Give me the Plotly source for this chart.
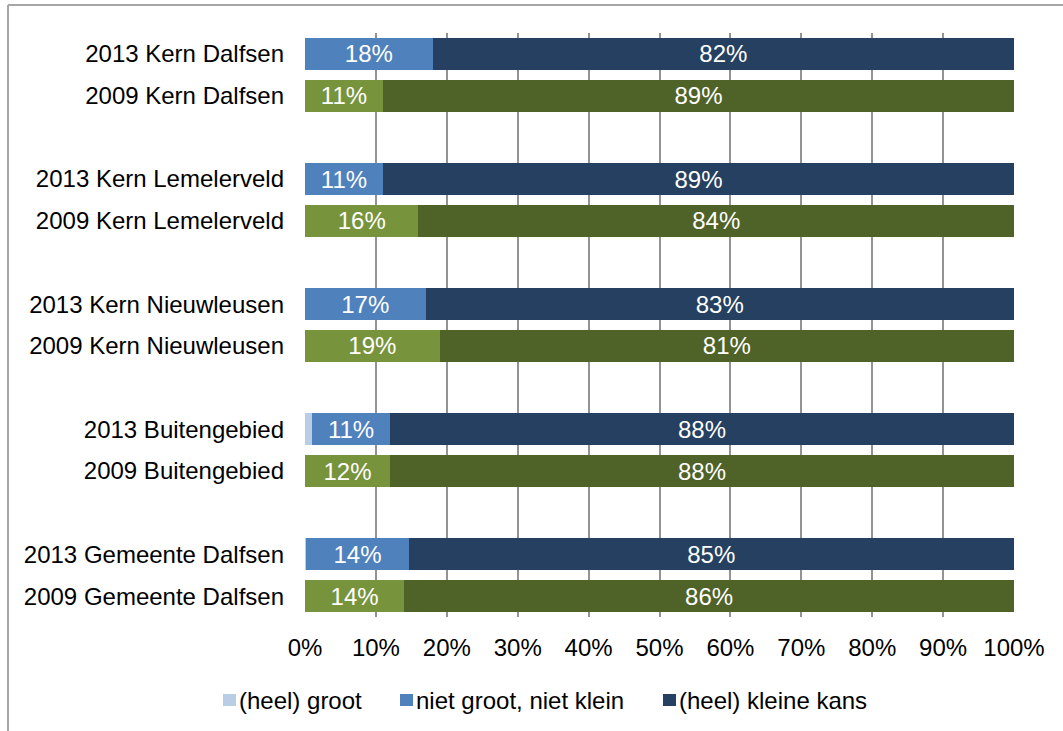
import plotly.graph_objects as go

# ---- data ----
groups = ["Kern Dalfsen", "Kern Lemelerveld", "Kern Nieuwleusen", "Buitengebied", "Gemeente Dalfsen"]
years = ["2013", "2009"]
series_names = ["(heel) groot", "niet groot, niet klein", "(heel) kleine kans"]

groot_2013 = [0, 0, 0, 1, 0.2]
mid_2013 = [18, 11, 17, 11, 14.4]
small_2013 = [82, 89, 83, 88, 85.4]

groot_2009 = [0, 0, 0, 0, 0]
mid_2009 = [11, 16, 19, 12, 14]
small_2009 = [89, 84, 81, 88, 86]

x_ticks = [0, 10, 20, 30, 40, 50, 60, 70, 80, 90, 100]

# ---- styling ----
colors_2013 = ["#B9CDE5", "#4F81BD", "#254061"]
colors_2009 = ["#C3D69B", "#77933C", "#4F6228"]
FONT = "Liberation Sans, Arial, sans-serif"

# row positions: each group takes 2 rows + 1 spacer row
pos_2013 = [g * 3 + 0 for g in range(len(groups))]
pos_2009 = [g * 3 + 1 for g in range(len(groups))]
tickvals = []
ticktext = []
for g, name in enumerate(groups):
    tickvals += [pos_2013[g], pos_2009[g]]
    ticktext += [f"{years[0]} {name}", f"{years[1]} {name}"]

fig = go.Figure()
data_2013 = [groot_2013, mid_2013, small_2013]
data_2009 = [groot_2009, mid_2009, small_2009]
BW = 0.77
for i, sname in enumerate(series_names):
    show_text = i > 0
    fig.add_trace(go.Bar(
        x=data_2013[i], y=pos_2013, orientation="h", width=BW,
        name=sname, marker=dict(color=colors_2013[i], line=dict(width=0)),
        legendgroup=sname, showlegend=False,
        texttemplate="%{x:.0f}%" if show_text else None,
        textposition="inside" if show_text else "none",
        insidetextanchor="middle", constraintext="none",
        textfont=dict(color="white", size=24, family=FONT),
        hoverinfo="x+name",
    ))
    fig.add_trace(go.Bar(
        x=data_2009[i], y=pos_2009, orientation="h", width=BW,
        name=sname, marker=dict(color=colors_2009[i], line=dict(width=0)),
        legendgroup=sname, showlegend=False,
        texttemplate="%{x:.0f}%" if show_text else None,
        textposition="inside" if show_text else "none",
        insidetextanchor="middle", constraintext="none",
        textfont=dict(color="white", size=24, family=FONT),
        hoverinfo="x+name",
    ))

W, H = 1063, 731
ML, MR, MT, MB = 305, 49, 33, 114
pw, ph = W - ML - MR, H - MT - MB


def px2x(px):
    return (px - ML) / pw


def py2y(py):
    return (H - MB - py) / ph


border = "#A6A6A6"
shapes = [
    dict(type="line", xref="paper", yref="paper", x0=px2x(8), x1=px2x(8),
         y0=py2y(5), y1=py2y(735), line=dict(color=border, width=2), layer="above"),
    dict(type="line", xref="paper", yref="paper", x0=px2x(8), x1=px2x(1063),
         y0=py2y(5), y1=py2y(5), line=dict(color=border, width=2), layer="above"),
]
annotations = []

# legend (drawn manually to match the compact Excel layout)
legend_marker_x = [223, 400, 663]
LEG_Y = 700
for i, sname in enumerate(series_names):
    mx = legend_marker_x[i]
    shapes.append(dict(type="rect", xref="paper", yref="paper",
                       x0=px2x(mx), x1=px2x(mx + 13), y0=py2y(LEG_Y - 6), y1=py2y(LEG_Y + 6),
                       fillcolor=colors_2013[i], line=dict(width=0), layer="above"))
    annotations.append(dict(text=sname, xref="paper", yref="paper",
                            x=px2x(mx + 15), y=py2y(LEG_Y), xanchor="left", yanchor="middle",
                            showarrow=False, borderpad=0,
                            font=dict(size=24, family=FONT, color="black")))

fig.update_layout(
    width=W, height=H,
    margin=dict(l=ML, r=MR, t=MT, b=MB, pad=0),
    barmode="stack",
    plot_bgcolor="white", paper_bgcolor="white",
    font=dict(family=FONT, size=24, color="black"),
    xaxis=dict(
        range=[0, 100], tickvals=x_ticks, ticktext=[f"{v}%" for v in x_ticks],
        showgrid=True, gridcolor="#939393", gridwidth=2, zeroline=False,
        showline=False, ticks="", ticklabelstandoff=14,
        tickfont=dict(size=24, family=FONT, color="black"), fixedrange=True,
    ),
    yaxis=dict(
        range=[13.5, -0.5], tickvals=tickvals, ticktext=ticktext,
        showgrid=False, zeroline=False, showline=False, ticks="",
        ticklabelstandoff=20,
        tickfont=dict(size=24, family=FONT, color="black"), fixedrange=True,
    ),
    showlegend=False,
    shapes=shapes,
    annotations=annotations,
)

fig.write_html(
    "out.html",
    config={"displayModeBar": False},
    post_script="document.body.style.margin='0';document.body.style.padding='0';",
)
